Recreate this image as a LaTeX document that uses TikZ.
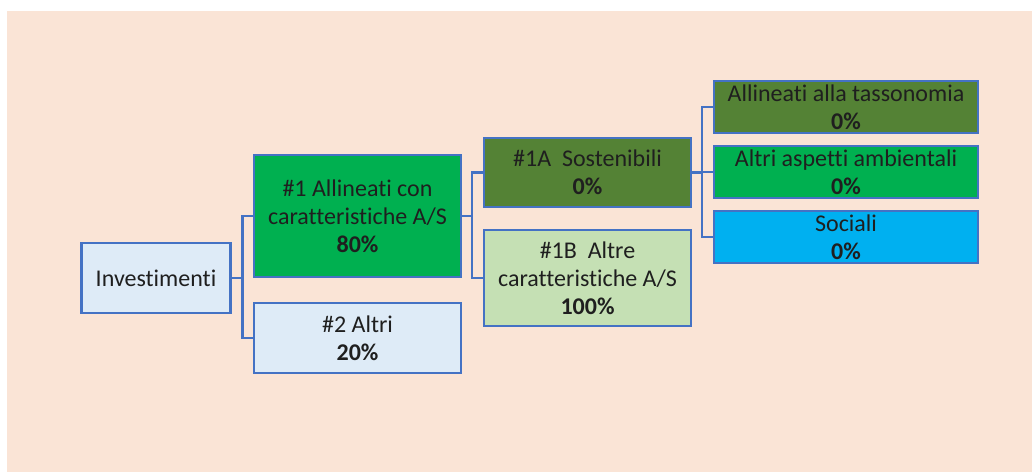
\documentclass[tikz,border=0pt]{standalone}
\usepackage{fontspec}
\setmainfont{Carlito}[Ligatures=CommonOff]
\usetikzlibrary{positioning}
\definecolor{peach}{HTML}{FAE4D6}
\definecolor{edgeblue}{HTML}{4472C4}
\definecolor{paleblue}{HTML}{DEEBF7}
\definecolor{brightgreen}{HTML}{00B050}
\definecolor{darkgreen}{HTML}{548235}
\definecolor{palegreen}{HTML}{C5E0B4}
\definecolor{cyanblue}{HTML}{00B0F0}

\begin{document}
\begin{tikzpicture}[
        x=1pt, y=1pt,
        align=center,
        font=\fontsize{24}{28}\selectfont,
        box/.style = {draw=edgeblue, line width=2.6pt, inner sep=0pt, outer sep=0pt, text=black!88, minimum width=207pt},
        leaf/.style = {box, minimum width=264pt, minimum height=52pt},
        link/.style = {draw=edgeblue, line width=2.4pt}
    ]

        \useasboundingbox (0,0) rectangle (1032,472);
        \fill[peach] (7,0) rectangle (1032,461);

        \node[box, fill=paleblue, minimum width=149pt, minimum height=70pt] (inv) at (156,194) {Investimenti};
        \node[box, fill=brightgreen, minimum height=122pt] (a1) at (357.5,256) {\#1 Allineati con\\caratteristiche A/S\\\textbf{80\%}};
        \node[box, fill=paleblue, minimum height=70pt] (a2) [below=26pt of a1] {\#2 Altri\\\textbf{20\%}};
        \node[box, fill=darkgreen, minimum height=69pt] (s1a) at (587.5,299.5) {\#1A\ \ Sostenibili\\\textbf{0\%}};
        \node[box, fill=palegreen, minimum height=96pt] (s1b) [below=23pt of s1a] {\#1B\ \ Altre\\caratteristiche A/S\\\textbf{100\%}};
        \node[leaf, fill=darkgreen] (tax) at (846,365) {Allineati alla tassonomia\\\textbf{0\%}};
        \node[leaf, fill=brightgreen] (amb) [below=13pt of tax] {Altri aspetti ambientali\\\textbf{0\%}};
        \node[leaf, fill=cyanblue] (soc) [below=13pt of amb] {Sociali\\\textbf{0\%}};

        \draw[link] (inv.east) -- ++(12,0) |- (a1);
        \draw[link] (inv.east) -- ++(12,0) |- (a2);
        \draw[link] (a1.east) -- ++(11,0) |- (s1a);
        \draw[link] (a1.east) -- ++(11,0) |- (s1b);
        \draw[link] (s1a.east) -- ++(11,0) |- (tax);
        \draw[link] (s1a.east) -- ++(11,0) |- (amb);
        \draw[link] (s1a.east) -- ++(11,0) |- (soc);

    \end{tikzpicture}
\end{document}
